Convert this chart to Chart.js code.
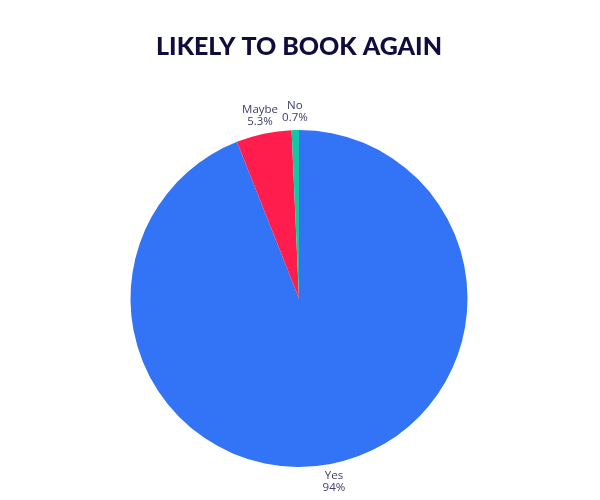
<!DOCTYPE html>
<html>
<head>
<meta charset="utf-8">
<style>
  html, body { margin: 0; padding: 0; background: #fff; }
  #wrap { width: 600px; height: 500px; position: relative; }
</style>
<script src="https://cdn.jsdelivr.net/npm/chart.js@4.4.0/dist/chart.umd.min.js"></script>
</head>
<body>
<div id="wrap"><canvas id="pie"></canvas></div>
<script>
const chartTitle = 'LIKELY TO BOOK AGAIN';
const categories = ['Yes', 'Maybe', 'No'];
const shares = [94, 5.3, 0.7];
const valueLabels = ['94%', '5.3%', '0.7%'];
const sliceColors = ['#3373f5', '#fe1d4c', '#13c7a5'];

// title drawn by hand so the pie area stays where the padding puts it
const titlePlugin = {
  id: 'titleText',
  afterDraw(chart) {
    const ctx = chart.ctx;
    ctx.save();
    ctx.fillStyle = '#100d3e';
    ctx.font = '900 25px Lato';
    ctx.textAlign = 'center';
    ctx.textBaseline = 'middle';
    ctx.fillText(chartTitle, 299, 47);
    ctx.restore();
  }
};

// outside labels: name + percent, centred on a point just past the rim
const outLabels = {
  id: 'outLabels',
  afterDatasetsDraw(chart) {
    const ctx = chart.ctx;
    const meta = chart.getDatasetMeta(0);
    ctx.save();
    ctx.fillStyle = '#3c3b6b';
    ctx.font = '11.5px "Open Sans"';
    ctx.textAlign = 'center';
    ctx.textBaseline = 'middle';
    meta.data.forEach((arc, i) => {
      const mid = (arc.startAngle + arc.endAngle) / 2;
      const r = arc.outerRadius + 18;
      const x = arc.x + Math.cos(mid) * r;
      const y = arc.y + Math.sin(mid) * r;
      ctx.fillText(categories[i], x, y - 6);
      ctx.fillText(valueLabels[i], x, y + 6);
    });
    ctx.restore();
  }
};

new Chart(document.getElementById('pie'), {
  type: 'pie',
  data: {
    labels: categories,
    datasets: [{
      data: shares,
      backgroundColor: sliceColors,
      borderWidth: 0,
    }],
  },
  options: {
    responsive: true,
    maintainAspectRatio: false,
    animation: false,
    layout: { padding: { top: 130, bottom: 33, left: 0, right: 2 } },
    plugins: { legend: { display: false }, tooltip: { enabled: false } },
  },
  plugins: [titlePlugin, outLabels],
});
</script>
</body>
</html>
